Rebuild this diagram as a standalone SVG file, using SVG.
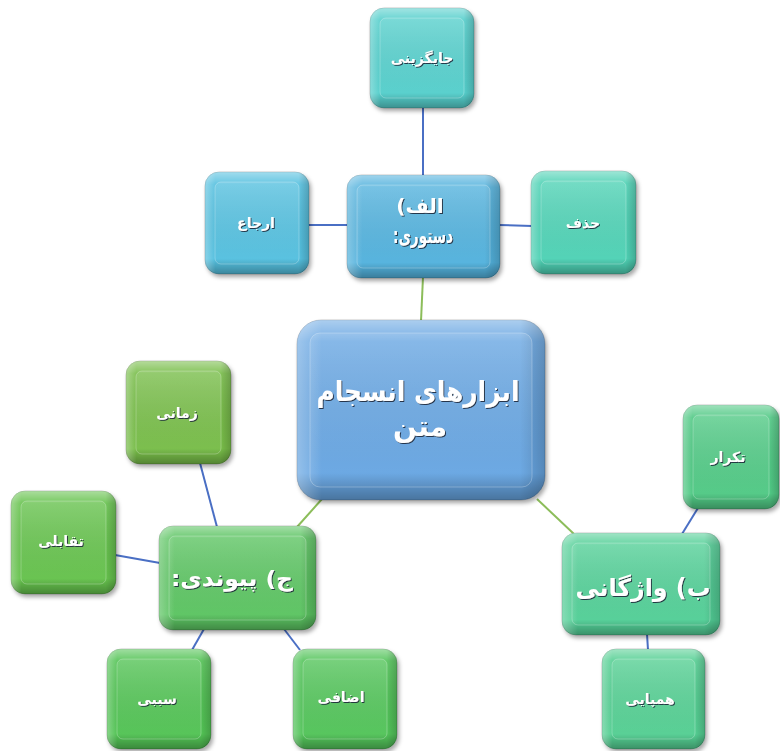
<svg xmlns="http://www.w3.org/2000/svg" width="780" height="751" viewBox="0 0 780 751">
<defs>
<filter id="sh" x="-10%" y="-10%" width="125%" height="125%">
<feDropShadow dx="2" dy="3" stdDeviation="2" flood-color="#000" flood-opacity="0.35"/>
</filter>
<filter id="ts" x="-10%" y="-20%" width="120%" height="140%">
<feDropShadow dx="1" dy="1" stdDeviation="0.4" flood-color="#1a2a3a" flood-opacity="0.9"/>
</filter>
<linearGradient id="shade" x1="0" y1="0" x2="0" y2="1">
<stop offset="0" stop-color="#fff" stop-opacity="0.45"/>
<stop offset="0.12" stop-color="#fff" stop-opacity="0.1"/>
<stop offset="0.85" stop-color="#000" stop-opacity="0"/>
<stop offset="1" stop-color="#000" stop-opacity="0.3"/>
</linearGradient>
<linearGradient id="side" x1="0" y1="0" x2="1" y2="0">
<stop offset="0" stop-color="#fff" stop-opacity="0.3"/>
<stop offset="0.1" stop-color="#fff" stop-opacity="0"/>
<stop offset="0.9" stop-color="#000" stop-opacity="0"/>
<stop offset="1" stop-color="#000" stop-opacity="0.18"/>
</linearGradient>
<linearGradient id="face" x1="0" y1="0" x2="0" y2="1">
<stop offset="0" stop-color="#fff" stop-opacity="0.12"/>
<stop offset="1" stop-color="#fff" stop-opacity="0.02"/>
</linearGradient>
</defs>
<style>
.box{stroke:#000;stroke-opacity:0.18;stroke-width:1}
.ov{fill:url(#shade)}
.sd{fill:url(#side)}
.fc{fill:url(#face);stroke:#fff;stroke-opacity:0.25;stroke-width:1}
.t{font-family:"DejaVu Sans","Noto Sans",sans-serif;font-weight:bold;fill:#fff;text-anchor:middle;direction:rtl;filter:url(#ts)}
.s{font-size:14px}
.bl{stroke:#4a6fc4;stroke-width:2;fill:none}
.gr{stroke:#8cbd5a;stroke-width:2;fill:none}
</style>
<g id="connectors">
<line class="bl" x1="423" y1="108" x2="423" y2="176"/>
<line class="bl" x1="309" y1="225" x2="348" y2="225"/>
<line class="bl" x1="499" y1="225" x2="532" y2="226"/>
<line class="bl" x1="200" y1="463" x2="217" y2="527"/>
<line class="bl" x1="115" y1="555" x2="160" y2="563"/>
<line class="bl" x1="204" y1="629" x2="192" y2="650"/>
<line class="bl" x1="284" y1="629" x2="300" y2="650"/>
<line class="bl" x1="698" y1="508" x2="682" y2="534"/>
<line class="bl" x1="647" y1="634" x2="648" y2="650"/>
<line class="gr" x1="423" y1="277" x2="421" y2="321"/>
<line class="gr" x1="322" y1="499" x2="297" y2="527"/>
<line class="gr" x1="537" y1="499" x2="574" y2="534"/>
</g>
<g id="n_jaygozini">
<rect class="box" x="370" y="8" width="104" height="100" rx="14" fill="#56cfcc" filter="url(#sh)"/>
<rect class="ov" x="370" y="8" width="104" height="100" rx="14"/>
<rect class="sd" x="370" y="8" width="104" height="100" rx="14"/>
<rect class="fc" x="380" y="18" width="84" height="80" rx="6"/>
<text class="t s" x="422" y="63">جایگزینی</text>
</g>
<g id="n_erja">
<rect class="box" x="205" y="172" width="104" height="102" rx="14" fill="#55c0df" filter="url(#sh)"/>
<rect class="ov" x="205" y="172" width="104" height="102" rx="14"/>
<rect class="sd" x="205" y="172" width="104" height="102" rx="14"/>
<rect class="fc" x="215" y="182" width="84" height="82" rx="6"/>
<text class="t s" x="256" y="228">ارجاع</text>
</g>
<g id="n_dasturi">
<rect class="box" x="347" y="175" width="153" height="103" rx="14" fill="#52b2dd" filter="url(#sh)"/>
<rect class="ov" x="347" y="175" width="153" height="103" rx="14"/>
<rect class="sd" x="347" y="175" width="153" height="103" rx="14"/>
<rect class="fc" x="357" y="185" width="133" height="83" rx="6"/>
<text class="t" x="420" y="213" font-size="20">الف)</text>
<text class="t" x="423" y="243" font-size="21" textLength="60" lengthAdjust="spacingAndGlyphs">دستوری:</text>
</g>
<g id="n_hazf">
<rect class="box" x="531" y="171" width="105" height="103" rx="14" fill="#50d2b5" filter="url(#sh)"/>
<rect class="ov" x="531" y="171" width="105" height="103" rx="14"/>
<rect class="sd" x="531" y="171" width="105" height="103" rx="14"/>
<rect class="fc" x="541" y="181" width="85" height="83" rx="6"/>
<text class="t s" x="583" y="228">حذف</text>
</g>
<g id="n_main">
<rect class="box" x="297" y="320" width="248" height="180" rx="24" fill="#68a6e2" filter="url(#sh)"/>
<rect class="ov" x="297" y="320" width="248" height="180" rx="24"/>
<rect class="sd" x="297" y="320" width="248" height="180" rx="24"/>
<rect class="fc" x="310" y="333" width="222" height="154" rx="10"/>
<text class="t" x="418" y="401" font-size="28" textLength="203" lengthAdjust="spacingAndGlyphs">ابزارهای انسجام</text>
<text class="t" x="420" y="436" font-size="28">متن</text>
</g>
<g id="n_zamani">
<rect class="box" x="126" y="361" width="105" height="103" rx="14" fill="#78bd4a" filter="url(#sh)"/>
<rect class="ov" x="126" y="361" width="105" height="103" rx="14"/>
<rect class="sd" x="126" y="361" width="105" height="103" rx="14"/>
<rect class="fc" x="136" y="371" width="85" height="83" rx="6"/>
<text class="t s" x="177" y="418">زمانی</text>
</g>
<g id="n_taqabol">
<rect class="box" x="11" y="491" width="105" height="103" rx="14" fill="#66c24e" filter="url(#sh)"/>
<rect class="ov" x="11" y="491" width="105" height="103" rx="14"/>
<rect class="sd" x="11" y="491" width="105" height="103" rx="14"/>
<rect class="fc" x="21" y="501" width="85" height="83" rx="6"/>
<text class="t s" x="61" y="546">تقابلی</text>
</g>
<g id="n_peyvandi">
<rect class="box" x="159" y="526" width="157" height="104" rx="14" fill="#5cc462" filter="url(#sh)"/>
<rect class="ov" x="159" y="526" width="157" height="104" rx="14"/>
<rect class="sd" x="159" y="526" width="157" height="104" rx="14"/>
<rect class="fc" x="169" y="536" width="137" height="84" rx="6"/>
<text class="t" x="232" y="586" font-size="22" textLength="122" lengthAdjust="spacingAndGlyphs">ج) پیوندی:</text>
</g>
<g id="n_sababi">
<rect class="box" x="107" y="649" width="104" height="100" rx="14" fill="#52c354" filter="url(#sh)"/>
<rect class="ov" x="107" y="649" width="104" height="100" rx="14"/>
<rect class="sd" x="107" y="649" width="104" height="100" rx="14"/>
<rect class="fc" x="117" y="659" width="84" height="80" rx="6"/>
<text class="t s" x="157" y="704">سببی</text>
</g>
<g id="n_ezafi">
<rect class="box" x="293" y="649" width="104" height="100" rx="14" fill="#52c45a" filter="url(#sh)"/>
<rect class="ov" x="293" y="649" width="104" height="100" rx="14"/>
<rect class="sd" x="293" y="649" width="104" height="100" rx="14"/>
<rect class="fc" x="303" y="659" width="84" height="80" rx="6"/>
<text class="t s" x="341" y="702">اضافی</text>
</g>
<g id="n_vajegani">
<rect class="box" x="562" y="533" width="158" height="102" rx="14" fill="#52cf97" filter="url(#sh)"/>
<rect class="ov" x="562" y="533" width="158" height="102" rx="14"/>
<rect class="sd" x="562" y="533" width="158" height="102" rx="14"/>
<rect class="fc" x="572" y="543" width="138" height="82" rx="6"/>
<text class="t" x="643" y="596" font-size="24" textLength="135" lengthAdjust="spacingAndGlyphs">ب) واژگانی</text>
</g>
<g id="n_tekrar">
<rect class="box" x="683" y="405" width="96" height="104" rx="14" fill="#51c985" filter="url(#sh)"/>
<rect class="ov" x="683" y="405" width="96" height="104" rx="14"/>
<rect class="sd" x="683" y="405" width="96" height="104" rx="14"/>
<rect class="fc" x="693" y="415" width="76" height="84" rx="6"/>
<text class="t s" x="728" y="462">تکرار</text>
</g>
<g id="n_hampayi">
<rect class="box" x="602" y="649" width="103" height="100" rx="14" fill="#54cf93" filter="url(#sh)"/>
<rect class="ov" x="602" y="649" width="103" height="100" rx="14"/>
<rect class="sd" x="602" y="649" width="103" height="100" rx="14"/>
<rect class="fc" x="612" y="659" width="83" height="80" rx="6"/>
<text class="t s" x="650" y="704">همپایی</text>
</g>
</svg>
